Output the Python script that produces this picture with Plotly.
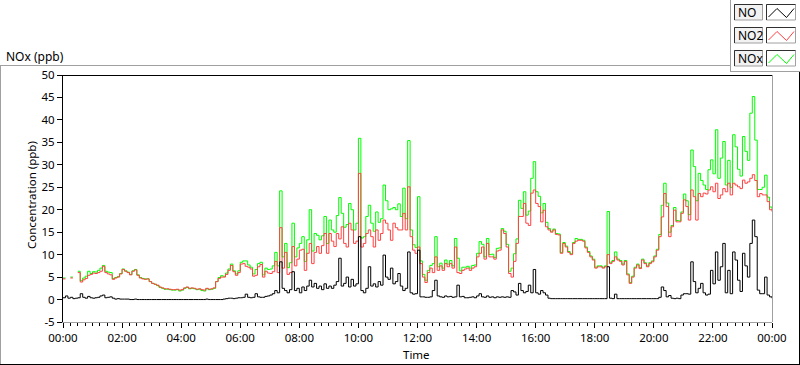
import plotly.graph_objects as go
import pandas as pd

# ---------------- data (5-minute readings, 00:00 .. 24:00) ----------------
no_ppb = [
    0.4, 0.8, 0.3, 0.5, 0.2, 0.3, 0.4, 1.3, 0.5, 0.3, 0.7, 0.4,
    0.3, 0.4, 0.5, 0.8, 1.0, 0.4, 0.5, 0.6, 0.3, 0.1, 0.2, 0.1,
    0.1, 0.1, 0.1, 0.0, 0.0, 0.1, 0.0, 0.0, 0.0, 0.0, 0.0, 0.0,
    0.0, 0.0, 0.0, 0.0, 0.0, 0.0, 0.0, 0.0, 0.0, 0.0, 0.0, 0.0,
    0.0, 0.0, 0.0, 0.0, 0.0, 0.0, 0.0, 0.0, 0.0, 0.0, 0.1, 0.0,
    0.0, 0.0, 0.0, 0.0, 0.0, 0.1, 0.2, 0.3, 0.3, 0.2, 0.3, 0.4,
    0.4, 0.5, 1.2, 0.5, 0.4, 0.5, 1.3, 0.6, 0.5, 0.5, 0.7, 0.8,
    1.0, 1.3, 2.0, 1.5, 8.4, 2.5, 2.0, 1.5, 2.2, 6.2, 2.0, 2.5,
    1.5, 2.8, 2.0, 3.0, 4.3, 2.8, 3.6, 2.5, 3.0, 2.2, 3.5, 2.5,
    3.0, 2.5, 3.2, 4.0, 9.2, 3.0, 3.6, 5.0, 2.8, 4.5, 3.0, 3.5,
    14.0, 2.0, 1.5, 2.5, 7.3, 3.0, 3.5, 2.8, 4.0, 3.2, 9.9, 5.0,
    4.5, 7.0, 3.5, 4.0, 5.8, 3.0, 2.0, 2.5, 10.6, 1.5, 1.2, 1.3,
    11.0, 0.6, 0.6, 0.5, 0.5, 0.6, 2.0, 4.3, 0.8, 0.6, 0.5, 0.8,
    0.6, 0.7, 0.5, 0.6, 3.2, 0.6, 0.7, 0.4, 0.4, 0.5, 0.6, 0.4,
    0.8, 1.3, 0.6, 0.5, 0.8, 0.5, 0.6, 0.4, 0.6, 0.5, 0.6, 0.5,
    0.6, 0.5, 2.0, 1.7, 1.0, 3.6, 2.0, 1.5, 1.8, 3.2, 1.5, 6.7,
    1.5, 1.2, 2.0, 1.5, 1.0, 0.3, 0.2, 0.2, 0.2, 0.2, 0.2, 0.2,
    0.2, 0.2, 0.2, 0.2, 0.2, 0.2, 0.2, 0.2, 0.2, 0.2, 0.2, 0.2,
    0.2, 0.2, 0.2, 0.2, 0.2, 7.3, 0.3, 0.2, 1.2, 0.2, 0.2, 0.2,
    0.2, 0.2, 0.2, 0.2, 0.2, 0.2, 0.2, 0.2, 0.2, 0.2, 0.2, 0.2,
    0.2, 0.2, 0.5, 2.8, 2.0, 0.6, 0.9, 0.3, 0.2, 0.3, 0.2, 1.0,
    1.3, 1.3, 1.2, 8.4, 4.0, 1.5, 2.5, 3.6, 1.5, 1.0, 1.2, 6.5,
    3.5, 10.6, 4.3, 7.3, 12.5, 1.5, 6.5, 1.3, 10.6, 8.8, 4.3, 1.8,
    10.3, 7.5, 5.0, 12.5, 17.7, 14.0, 2.1, 1.3, 1.3, 5.0, 1.0, 0.6,
    0.3,
]

no2_ppb = [
    4.6, 4.6, None, 4.8, 4.8, None, 6.0, 3.9, 4.4, 4.7, 5.4, 5.6,
    5.9, 5.8, 6.0, 6.3, 7.4, 6.0, 5.7, 5.5, 4.5, 4.8, 5.0, 5.7,
    6.7, 6.3, 6.0, 5.5, 6.3, 6.6, 5.4, 4.8, 4.6, 4.5, 4.6, 4.0,
    3.6, 3.4, 3.2, 2.8, 2.6, 2.4, 2.4, 2.3, 2.2, 2.2, 2.3, 2.1,
    2.2, 2.6, 2.8, 2.5, 2.6, 2.5, 2.3, 2.4, 2.2, 2.1, 2.5, 2.3,
    2.4, 2.6, 4.0, 4.7, 5.0, 5.0, 5.6, 6.5, 7.6, 6.2, 5.4, 6.0,
    7.9, 8.0, 7.4, 7.2, 6.8, 5.2, 5.4, 7.3, 7.8, 5.0, 6.3, 5.9,
    5.8, 6.2, 8.5, 6.0, 16.0, 7.0, 10.5, 5.6, 6.0, 11.8, 7.5, 9.0,
    11.0, 11.2, 6.5, 10.3, 12.5, 8.0, 10.5, 11.8, 10.3, 12.0, 14.7, 10.3,
    14.7, 13.0, 11.8, 14.7, 13.5, 16.2, 12.5, 11.7, 17.0, 15.5, 12.5, 13.0,
    28.1, 11.7, 12.5, 14.7, 15.5, 14.0, 11.7, 15.5, 13.2, 14.7, 17.7, 17.0,
    15.5, 13.2, 17.0, 16.0, 15.5, 15.5, 19.2, 15.5, 25.1, 14.0, 11.0, 10.3,
    11.7, 8.0, 5.0, 3.8, 6.0, 7.0, 6.0, 9.5, 6.5, 7.5, 6.5, 8.0,
    7.3, 8.0, 7.0, 11.7, 6.0, 5.8, 6.5, 6.8, 7.0, 6.5, 7.0, 7.3,
    9.5, 10.3, 11.7, 9.0, 12.5, 9.5, 9.5, 9.0, 10.8, 11.0, 15.5, 14.7,
    11.7, 5.8, 5.0, 8.5, 12.5, 18.5, 18.5, 21.4, 17.0, 16.5, 23.7, 24.4,
    21.4, 20.7, 17.3, 19.9, 16.2, 15.5, 15.0, 15.5, 14.5, 14.4, 10.3, 12.5,
    11.7, 10.5, 10.0, 12.5, 13.0, 13.2, 13.2, 13.0, 11.5, 10.5, 9.5, 8.8,
    7.0, 7.3, 7.3, 7.0, 7.3, 10.0, 8.0, 8.5, 9.5, 8.8, 8.5, 7.7,
    8.5, 5.5, 3.6, 5.0, 7.0, 7.7, 6.9, 8.8, 8.0, 7.3, 8.0, 8.4,
    9.5, 11.0, 14.0, 18.4, 23.6, 20.7, 14.0, 16.2, 19.9, 17.3, 17.3, 19.2,
    22.2, 20.7, 17.7, 24.4, 22.9, 17.7, 23.6, 22.9, 23.7, 23.5, 24.4, 25.1,
    24.0, 25.9, 22.5, 23.3, 24.7, 24.0, 25.9, 23.3, 25.9, 25.5, 25.1, 24.7,
    26.6, 25.9, 26.2, 27.0, 27.8, 26.5, 22.9, 23.6, 23.3, 23.3, 21.8, 20.0,
    19.6,
]

nox_ppb = [
    4.8, 4.8, None, 5.0, 5.0, None, 6.3, 4.2, 4.8, 5.2, 6.3, 5.8,
    6.2, 6.1, 6.5, 7.0, 7.6, 6.3, 6.1, 6.0, 4.7, 4.9, 5.1, 5.8,
    6.8, 6.4, 6.1, 5.6, 6.4, 6.7, 5.5, 4.9, 4.7, 4.6, 4.6, 4.0,
    3.6, 3.4, 3.1, 2.7, 2.5, 2.3, 2.3, 2.2, 2.1, 2.1, 2.2, 1.9,
    2.1, 2.5, 2.7, 2.4, 2.5, 2.4, 2.2, 2.3, 2.0, 1.9, 2.4, 2.2,
    2.3, 2.5, 4.0, 4.9, 5.3, 5.2, 5.9, 6.8, 7.9, 6.4, 5.7, 6.4,
    8.3, 8.6, 8.6, 7.7, 7.2, 5.7, 6.7, 8.0, 8.3, 5.5, 7.0, 6.7,
    6.8, 7.5, 10.5, 7.5, 24.2, 9.5, 12.5, 7.1, 8.2, 17.0, 9.5, 11.5,
    12.5, 14.0, 8.5, 13.3, 20.0, 10.8, 14.7, 14.3, 13.3, 14.2, 18.5, 12.5,
    17.7, 15.5, 15.0, 18.7, 22.7, 19.2, 16.1, 16.7, 21.4, 20.0, 15.5, 17.0,
    35.9, 13.7, 14.0, 18.5, 21.0, 17.0, 15.2, 19.5, 17.2, 18.0, 25.5, 22.0,
    20.0, 20.2, 20.5, 20.0, 21.3, 18.5, 24.8, 18.0, 35.4, 15.5, 12.2, 11.6,
    22.9, 8.6, 5.6, 4.3, 6.5, 7.6, 8.0, 14.0, 7.3, 8.1, 7.0, 8.8,
    7.9, 8.7, 7.5, 13.6, 9.2, 6.4, 7.2, 7.2, 7.4, 7.0, 7.6, 7.7,
    10.3, 12.9, 12.3, 9.5, 13.6, 10.0, 10.1, 9.4, 11.4, 11.5, 15.8, 15.2,
    12.3, 6.3, 7.0, 10.2, 13.5, 22.1, 20.3, 24.0, 18.8, 19.7, 27.0, 30.7,
    24.0, 23.0, 19.3, 21.4, 17.2, 15.8, 15.2, 15.7, 14.7, 14.6, 10.5, 12.7,
    11.9, 10.7, 10.2, 12.7, 13.6, 13.4, 13.4, 13.2, 11.7, 10.7, 9.7, 9.0,
    7.2, 7.5, 7.5, 7.2, 7.5, 19.6, 8.3, 8.7, 10.6, 9.0, 8.7, 7.9,
    8.7, 5.7, 3.8, 5.2, 7.2, 7.9, 7.1, 9.0, 8.2, 7.5, 8.2, 8.6,
    9.7, 11.2, 14.5, 21.0, 25.9, 21.5, 15.0, 16.5, 20.5, 17.6, 17.5, 19.5,
    23.5, 22.0, 18.9, 33.3, 29.6, 22.0, 28.1, 26.5, 25.5, 24.5, 28.9, 31.1,
    28.0, 37.8, 27.0, 31.5, 35.2, 25.5, 31.0, 25.0, 36.7, 34.0, 29.0, 27.5,
    36.3, 33.0, 31.0, 41.5, 45.2, 35.5, 24.5, 24.5, 25.0, 27.7, 22.8, 20.6,
    19.9,
]

series_names = ["NO", "NO2", "NOx"]
y_tick_values = [-5, 0, 5, 10, 15, 20, 25, 30, 35, 40, 45, 50]
y_tick_labels = ["-5", "0", "5", "10", "15", "20", "25", "30", "35", "40", "45", "50"]

assert len(no_ppb) == len(no2_ppb) == len(nox_ppb) == 289
times = pd.date_range("2000-01-01 00:00", periods=len(no_ppb), freq="5min")

# ---------------- layout geometry ----------------
W, H = 800, 365
ML, MR, MT, MB = 63, 28, 75, 43
PW, PH = W - ML - MR, H - MT - MB
FONT = "Noto Sans"


def px(x):
    return (x - ML) / PW


def py(y):
    return (H - MB - y) / PH


fig = go.Figure()
colors = {"NO": "#000000", "NO2": "#ff4040", "NOx": "#00ff00"}
for name, vals in [("NOx", nox_ppb), ("NO2", no2_ppb), ("NO", no_ppb)]:
    fig.add_trace(go.Scatter(x=times, y=vals, mode="lines", name=name,
                             line=dict(color=colors[name], width=1, shape="hv"),
                             connectgaps=False, showlegend=False,
                             hoverinfo="skip"))

shapes = []


def line(x0, y0, x1, y1, color, w=1):
    shapes.append(dict(type="line", xref="paper", yref="paper",
                       x0=px(x0), y0=py(y0), x1=px(x1), y1=py(y1),
                       line=dict(color=color, width=w), layer="above"))


# outer frame
line(0.5, 65.5, 0.5, 365, "#a0a0a0")
line(0, 65.5, 730.5, 65.5, "#a0a0a0")
line(799.5, 72, 799.5, 365, "#000000")
line(0, 364.5, 800, 364.5, "#000000")
# legend panel
line(730.5, 0, 730.5, 72, "#a0a0a0")
line(730.5, 71.5, 800, 71.5, "#a0a0a0")
# plot frame (top black, right gray)
line(ML, MT + 0.5, W - MR, MT + 0.5, "#000000")
line(W - MR + 0.5, MT, W - MR + 0.5, H - MB, "#a0a0a0")

annotations = []
rows_top = [4, 27, 50]
for name, top in zip(series_names, rows_top):
    bot = top + 16
    # label box
    shapes.append(dict(type="rect", xref="paper", yref="paper",
                       x0=px(734.5), x1=px(762.5), y0=py(bot), y1=py(top + 0.5),
                       line=dict(color="#a0a0a0", width=1), fillcolor="#f2f2f2"))
    line(734.5, top + 0.5, 762.5, top + 0.5, "#303030")
    line(734.5, top + 0.5, 734.5, bot, "#303030")
    # glyph box
    shapes.append(dict(type="rect", xref="paper", yref="paper",
                       x0=px(766.5), x1=px(795.5), y0=py(bot), y1=py(top + 0.5),
                       line=dict(color="#a0a0a0", width=1), fillcolor="#ffffff"))
    line(766.5, top + 0.5, 795.5, top + 0.5, "#303030")
    line(766.5, top + 0.5, 766.5, bot, "#303030")
    pts = [(768.5, top + 13), (777, top + 4.5), (786.5, top + 13.5), (794, top + 4.5)]
    path = "M " + " L ".join(f"{px(a)},{py(b)}" for a, b in pts)
    shapes.append(dict(type="path", xref="paper", yref="paper", path=path,
                       line=dict(color=colors[name], width=1)))
    annotations.append(dict(text=name, xref="paper", yref="paper",
                            x=px(736), y=py(top + 8.5), xanchor="left",
                            yanchor="middle", showarrow=False,
                            font=dict(family=FONT, size=12, color="#000")))

annotations += [
    dict(text="NOx (ppb)", xref="paper", yref="paper", x=px(4), y=py(56),
         xanchor="left", yanchor="middle", showarrow=False,
         font=dict(family=FONT, size=12, color="#000")),
    dict(text="Concentration (ppb)", xref="paper", yref="paper", x=px(31),
         y=py(195), textangle=-90, xanchor="center", yanchor="middle",
         showarrow=False, font=dict(family=FONT, size=11.5, color="#000")),
    dict(text="Time", xref="paper", yref="paper", x=px(416), y=py(354),
         xanchor="center", yanchor="middle", showarrow=False,
         font=dict(family=FONT, size=11.5, color="#000")),
]

fig.update_layout(
    width=W, height=H,
    margin=dict(l=ML, r=MR, t=MT, b=MB, pad=0),
    paper_bgcolor="#ffffff", plot_bgcolor="#ffffff",
    showlegend=False,
    shapes=shapes, annotations=annotations,
    xaxis=dict(type="date", range=[times[0], times[-1]],
               tick0=times[0], dtick=2 * 3600 * 1000, tickformat="%H:%M",
               ticks="outside", ticklen=5, tickcolor="#000", tickwidth=1,
               minor=dict(dtick=15 * 60 * 1000, ticks="outside", ticklen=3,
                          tickcolor="#000", showgrid=False),
               showline=True, linecolor="#a0a0a0", linewidth=1,
               showgrid=False, zeroline=False,
               tickfont=dict(family=FONT, size=11.5, color="#000")),
    yaxis=dict(range=[-5, 50], tickmode="array", tickvals=y_tick_values,
               ticktext=y_tick_labels, ticks="outside", ticklen=5,
               tickcolor="#000", showline=True, linecolor="#000",
               linewidth=1, showgrid=False, zeroline=False,
               tickfont=dict(family=FONT, size=11.5, color="#000")),
)

fig.write_html("out.html",
               config={"displayModeBar": False},
               post_script="document.body.style.margin='0px';"
                           "document.body.style.overflow='hidden';")
